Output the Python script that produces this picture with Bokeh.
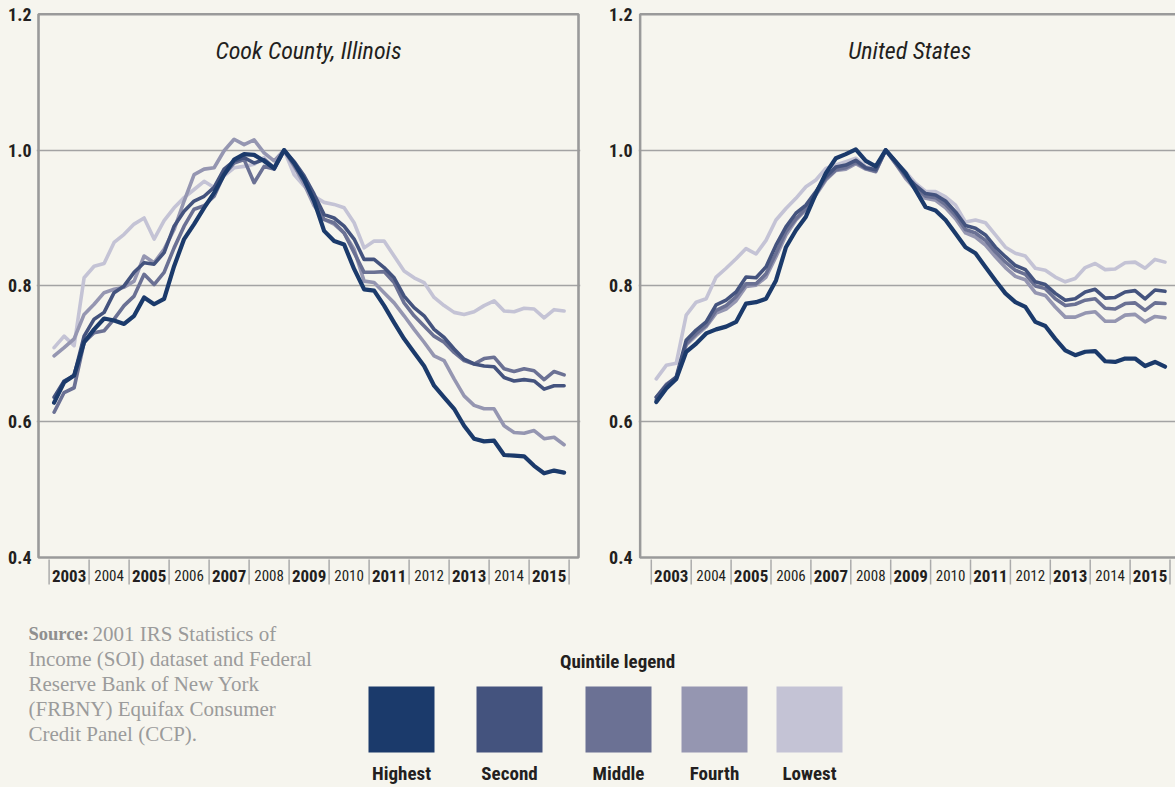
from bokeh.plotting import figure
from bokeh.layouts import column, row
from bokeh.models import Range1d, FixedTicker, NumeralTickFormatter, BoxAnnotation
from bokeh.core.properties import value
from bokeh.embed import file_html
from bokeh.resources import INLINE

# ---------------- data ----------------
years = list(range(2003, 2016))
quintiles = ["Highest", "Second", "Middle", "Fourth", "Lowest"]
colors = ["#1b3a6b", "#44537e", "#6b7194", "#9596b1", "#c4c3d5"]

cook_highest = [0.628,0.658,0.668,0.717,0.736,0.752,0.749,0.744,0.756,0.783,0.773,0.781,0.829,0.869,0.891,0.915,0.937,0.964,0.986,0.994,0.993,0.984,0.973,1.000,
                0.981,0.957,0.925,0.881,0.866,0.861,0.825,0.795,0.793,0.771,0.746,0.722,0.702,0.682,0.653,0.636,0.619,0.594,0.575,0.571,0.572,0.551,0.550,0.549,0.535,0.524,0.528,0.525]
cook_second = [0.636,0.660,0.668,0.726,0.751,0.761,0.790,0.800,0.820,0.834,0.832,0.849,0.888,0.910,0.925,0.932,0.945,0.972,0.984,0.989,0.981,0.986,0.974,1.000,
               0.983,0.962,0.935,0.905,0.900,0.888,0.869,0.839,0.839,0.827,0.812,0.785,0.768,0.756,0.736,0.724,0.707,0.692,0.685,0.682,0.681,0.665,0.660,0.662,0.660,0.648,0.653,0.653]
cook_middle = [0.614,0.643,0.650,0.717,0.731,0.734,0.751,0.771,0.785,0.817,0.802,0.820,0.856,0.888,0.913,0.918,0.932,0.964,0.981,0.986,0.952,0.976,0.972,1.000,
               0.978,0.955,0.925,0.898,0.893,0.878,0.849,0.820,0.820,0.821,0.805,0.775,0.756,0.741,0.726,0.717,0.702,0.690,0.685,0.693,0.695,0.678,0.674,0.678,0.675,0.662,0.674,0.669]
cook_fourth = [0.697,0.709,0.722,0.758,0.773,0.790,0.795,0.798,0.807,0.844,0.834,0.854,0.883,0.925,0.964,0.972,0.974,0.999,1.016,1.008,1.015,0.996,0.984,1.000,
               0.976,0.950,0.918,0.898,0.891,0.878,0.854,0.807,0.805,0.790,0.775,0.756,0.736,0.717,0.697,0.690,0.663,0.638,0.624,0.619,0.619,0.594,0.584,0.583,0.587,0.575,0.577,0.566]
cook_lowest = [0.709,0.726,0.712,0.812,0.829,0.833,0.864,0.876,0.891,0.900,0.869,0.896,0.915,0.930,0.942,0.954,0.945,0.962,0.974,0.976,0.979,0.989,0.972,1.000,
               0.964,0.947,0.932,0.923,0.920,0.915,0.893,0.856,0.866,0.866,0.844,0.822,0.812,0.805,0.783,0.771,0.761,0.758,0.762,0.771,0.778,0.763,0.762,0.767,0.766,0.753,0.765,0.763]

us_highest = [0.629,0.649,0.663,0.703,0.715,0.730,0.736,0.740,0.747,0.774,0.776,0.781,0.808,0.857,0.882,0.902,0.936,0.966,0.988,0.994,1.001,0.984,0.976,1.000,
              0.983,0.966,0.941,0.916,0.911,0.897,0.877,0.857,0.848,0.828,0.808,0.789,0.776,0.769,0.747,0.741,0.722,0.705,0.698,0.703,0.704,0.689,0.688,0.693,0.693,0.682,0.688,0.681]
us_second = [0.636,0.654,0.666,0.720,0.735,0.747,0.772,0.779,0.791,0.813,0.812,0.828,0.860,0.887,0.907,0.919,0.939,0.961,0.975,0.978,0.985,0.974,0.971,1.000,
             0.983,0.963,0.948,0.936,0.934,0.925,0.909,0.889,0.885,0.875,0.857,0.843,0.830,0.824,0.806,0.802,0.789,0.779,0.781,0.791,0.795,0.782,0.783,0.791,0.793,0.781,0.794,0.792]
us_middle = [0.632,0.651,0.663,0.715,0.730,0.742,0.764,0.771,0.784,0.803,0.803,0.818,0.848,0.880,0.899,0.914,0.936,0.958,0.971,0.974,0.982,0.973,0.969,1.000,
             0.980,0.961,0.945,0.932,0.930,0.920,0.904,0.883,0.878,0.867,0.850,0.835,0.823,0.817,0.800,0.796,0.781,0.771,0.773,0.779,0.781,0.767,0.766,0.774,0.775,0.764,0.775,0.774]
us_fourth = [0.636,0.655,0.665,0.713,0.727,0.740,0.760,0.766,0.778,0.799,0.801,0.813,0.843,0.875,0.897,0.912,0.934,0.956,0.970,0.972,0.980,0.972,0.968,1.000,
             0.980,0.958,0.942,0.929,0.926,0.915,0.899,0.878,0.872,0.860,0.843,0.827,0.814,0.809,0.790,0.786,0.769,0.754,0.754,0.760,0.762,0.748,0.748,0.757,0.758,0.747,0.755,0.753]
us_lowest = [0.663,0.683,0.686,0.757,0.776,0.781,0.813,0.826,0.840,0.855,0.847,0.867,0.897,0.914,0.929,0.946,0.956,0.973,0.978,0.983,0.988,0.976,0.972,1.000,
             0.983,0.968,0.951,0.939,0.939,0.931,0.919,0.894,0.897,0.893,0.875,0.857,0.848,0.844,0.826,0.823,0.813,0.806,0.811,0.827,0.833,0.824,0.825,0.834,0.835,0.826,0.839,0.835]

y_ticks = [0.4, 0.6, 0.8, 1.0, 1.2]
grid_ticks = [0.6, 0.8, 1.0]
source_lines = ["2001 IRS Statistics of", "Income (SOI) dataset and Federal",
                "Reserve Bank of New York", "(FRBNY) Equifax Consumer", "Credit Panel (CCP)."]

# ---------------- style ----------------
BG = "#f6f5ee"
TXT = "#231f20"
FRAME = "#9a9a9a"
FONT = "Roboto Condensed, Liberation Sans Narrow, Roboto, sans-serif"
SERIF = "Liberation Serif, DejaVu Serif, serif"
PXU = 679.0                       # pixels per y unit
TOP_H = 590
Y_TOP = 0.4 + 547 / PXU           # frame top sits 4px above the 1.2 line
Y_BOT = Y_TOP - 580 / PXU

qx = [y + (q + 0.5) / 4 for y in years for q in range(4)]


def panel(title, series, width, b_left, b_right, x0, x1, box_l, box_r, standoff):
    p = figure(width=width, height=TOP_H, x_range=Range1d(x0, x1), y_range=Range1d(Y_BOT, Y_TOP),
               output_backend="svg", toolbar_location=None, x_axis_location=None,
               min_border_left=b_left, min_border_right=b_right, min_border_top=10, min_border_bottom=0,
               background_fill_color=BG, border_fill_color=BG, outline_line_color=None)
    p.xgrid.visible = False
    p.ygrid.ticker = FixedTicker(ticks=grid_ticks)
    p.ygrid.grid_line_color = "#a3a3a3"
    p.ygrid.grid_line_width = 1.3
    ax = p.yaxis[0]
    ax.ticker = FixedTicker(ticks=y_ticks)
    ax.formatter = NumeralTickFormatter(format="0.0")
    ax.axis_line_color = None
    ax.major_tick_line_color = None
    ax.minor_tick_line_color = None
    ax.major_tick_out = 0
    ax.major_tick_in = 0
    ax.minor_tick_out = 0
    ax.major_label_standoff = standoff
    ax.major_label_text_font = FONT
    ax.major_label_text_font_style = "bold"
    ax.major_label_text_font_size = "18px"
    ax.major_label_text_color = TXT

    for i in reversed(range(len(quintiles))):
        p.line(qx, series[i], line_color=colors[i], line_width=4.2 if i == 0 else 3.6,
               line_join="round", line_cap="round")

    p.add_layout(BoxAnnotation(left=box_l, right=box_r, bottom=0.4, top=1.2,
                               fill_alpha=0, line_color=FRAME, line_alpha=1.0, line_width=2.6))

    # year boxes under the frame
    bounds = years + [years[-1] + 1]
    p.segment(x0=bounds, y0=[0.4 - 2 / PXU] * len(bounds), x1=bounds, y1=[0.4 - 27 / PXU] * len(bounds),
              line_color="#ababab", line_width=1.5)
    odd = [y for y in years if y % 2 == 1]
    even = [y for y in years if y % 2 == 0]
    p.text(x=[y + 0.5 for y in odd], y=[0.4 - 18 / PXU] * len(odd), text=[str(y) for y in odd],
           text_font=value(FONT), text_font_style="bold", text_font_size="17px",
           text_color=TXT, text_align="center", text_baseline="alphabetic")
    p.text(x=[y + 0.5 for y in even], y=[0.4 - 17.5 / PXU] * len(even), text=[str(y) for y in even],
           text_font=value(FONT), text_font_size="15px",
           text_color=TXT, text_align="center", text_baseline="alphabetic")

    p.text(x=[(box_l + box_r) / 2], y=[0.4 + 507 / PXU], text=[title],
           text_font=value(FONT), text_font_style="italic", text_font_size="24px",
           text_color=TXT, text_align="center", text_baseline="alphabetic")
    return p


cook = [cook_highest, cook_second, cook_middle, cook_fourth, cook_lowest]
us = [us_highest, us_second, us_middle, us_fourth, us_lowest]

left = panel("Cook County, Illinois", cook, 588, 36, 8,
             2003 - 12.6 / 40, 2003 - 12.6 / 40 + 544 / 40,
             2003 - 10.6 / 40, 2016 + 9.4 / 40, 5)
right = panel("United States", us, 587, 50, 0,
              2003 - 12.8 / 39.9, 2003 - 12.8 / 39.9 + 537 / 39.9,
              2003 - 11.2 / 39.9, 2016 + 9.4 / 39.9, 6)

# ---------------- bottom: source + legend ----------------
BH = 787 - TOP_H
b = figure(width=1175, height=BH, x_range=Range1d(0, 1175), y_range=Range1d(BH, 0),
           output_backend="svg", toolbar_location=None, x_axis_location=None, y_axis_location=None,
           min_border=0, background_fill_color=BG, border_fill_color=BG, outline_line_color=None)
b.xgrid.visible = False
b.ygrid.visible = False

line_y = [43.5 + 25 * i for i in range(len(source_lines))]
b.text(x=[28], y=[line_y[0]], text=["Source:"], text_font=value(SERIF), text_font_style="bold",
       text_font_size="18.5px", text_color="#8f8f8f", text_baseline="alphabetic")
b.text(x=[92] + [28] * (len(source_lines) - 1), y=line_y, text=source_lines,
       text_font=value(SERIF), text_font_size="21px", text_color="#9b9b9b", text_baseline="alphabetic")

legend_cx = [401, 509, 618, 714, 809]
b.text(x=[617], y=[71], text=["Quintile legend"], text_font=value(FONT), text_font_style="bold",
       text_font_size="19px", text_color=TXT, text_align="center", text_baseline="alphabetic")
b.rect(x=legend_cx, y=[129] * 5, width=66, height=66, fill_color=colors, line_color=None)
b.text(x=legend_cx, y=[183] * 5, text=quintiles, text_font=value(FONT), text_font_style="bold",
       text_font_size="19px", text_color=TXT, text_align="center", text_baseline="alphabetic")

layout = column(row(left, right), b)
html = file_html(layout, INLINE)
html = html.replace("</head>", "<style>html,body{background:%s;}</style></head>" % BG, 1)
open("out.html", "w").write(html)
